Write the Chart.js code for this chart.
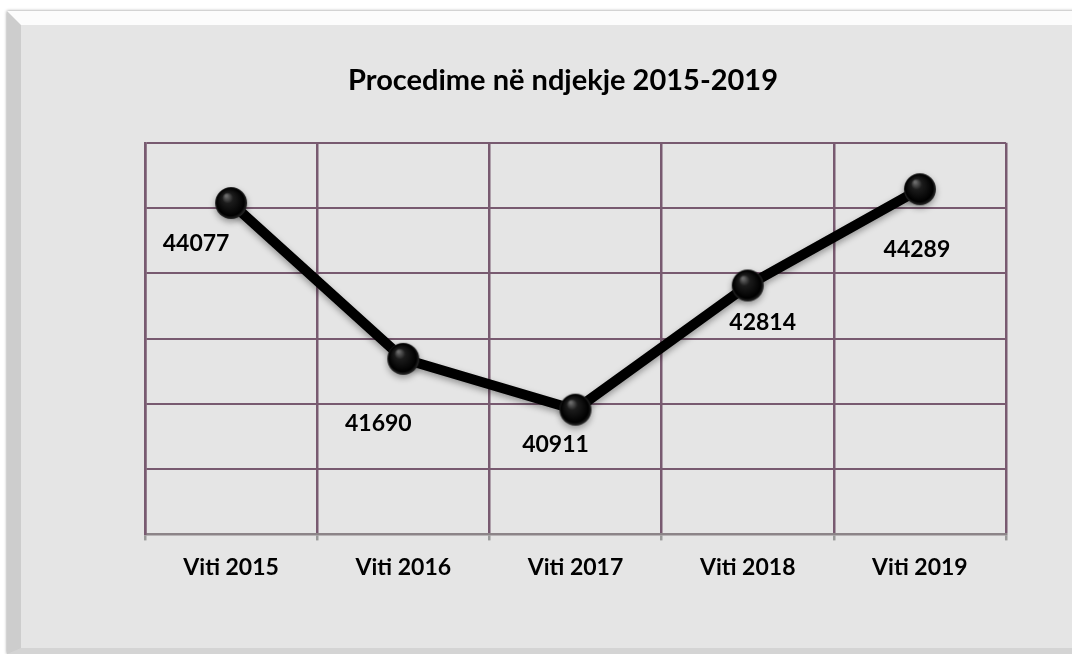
<!DOCTYPE html>
<html>
<head>
<meta charset="utf-8">
<script src="https://cdn.jsdelivr.net/npm/chart.js@4.4.0/dist/chart.umd.min.js"></script>
<style>
  body { margin: 0; background: #ffffff; }
  .frame {
    position: absolute;
    left: 7px;
    top: 11px;
    width: 1080px;
    height: 643px;
    box-sizing: border-box;
    background: #e5e5e5;
    border-top: 14px solid #fcfcfc;
    border-left: 14px solid #cdcdcd;
    border-bottom: 6px solid #d4d4d4;
    box-shadow: 0 0 3px rgba(0, 0, 0, 0.45);
  }
  #chart { position: absolute; left: 0; top: 0; }
</style>
</head>
<body>
<div class="frame"></div>
<canvas id="chart" width="1072" height="654"></canvas>
<script>
// Dados do gráfico
const years = ["Viti 2015", "Viti 2016", "Viti 2017", "Viti 2018", "Viti 2019"];
const procedimes = [44077, 41690, 40911, 42814, 44289];
const titleText = "Procedime në ndjekje 2015-2019";

// deslocamento dos rótulos em relação ao ponto (px)
const labelOffsets = [[-35, 41], [-25, 65], [-20, 35], [15, 37], [-3, 60]];

const gridColor = "#785a70";
const fontFamily = "Lato, 'Open Sans', sans-serif";

// Esfera preta usada como marcador
function makeSphere(r) {
  const c = document.createElement("canvas");
  c.width = c.height = r * 2 + 2;
  const g = c.getContext("2d");
  const cx = r + 1, cy = r + 1;
  const grad = g.createRadialGradient(cx - r * 0.3, cy - r * 0.45, 1, cx, cy, r);
  grad.addColorStop(0, "#6a6a6a");
  grad.addColorStop(0.3, "#1c1c1c");
  grad.addColorStop(0.85, "#000000");
  grad.addColorStop(1, "#2a2a2a");
  g.fillStyle = grad;
  g.beginPath();
  g.arc(cx, cy, r, 0, Math.PI * 2);
  g.fill();
  return c;
}

// Plugin: sombra dos marcadores e rótulos de valor
const valueLabels = {
  id: "valueLabels",
  beforeDatasetDraw(chart) {
    const ctx = chart.ctx;
    ctx.save();
    ctx.shadowColor = "rgba(0,0,0,0.35)";
    ctx.shadowBlur = 6;
    ctx.shadowOffsetY = 3;
  },
  afterDatasetDraw(chart) {
    chart.ctx.restore();
  },
  afterDatasetsDraw(chart) {
    const ctx = chart.ctx;
    const meta = chart.getDatasetMeta(0);
    ctx.save();
    ctx.font = "bold 23px " + fontFamily;
    ctx.fillStyle = "#000";
    ctx.textAlign = "center";
    ctx.textBaseline = "middle";
    meta.data.forEach((pt, i) => {
      const off = labelOffsets[i];
      ctx.fillText(String(procedimes[i]), pt.x + off[0], pt.y + off[1]);
    });
    ctx.restore();
  },
};

const ctx = document.getElementById("chart").getContext("2d");
const chart = new Chart(ctx, {
  type: "line",
  data: {
    labels: years,
    datasets: [
      {
        data: procedimes,
        borderColor: "#000000",
        borderWidth: 10,
        tension: 0,
        fill: false,
        pointStyle: makeSphere(16),
        pointRadius: 16,
      },
    ],
  },
  options: {
    responsive: false,
    animation: false,
    events: [],
    layout: { padding: { left: 120, right: 66, top: 0, bottom: 60 } },
    plugins: {
      legend: { display: false },
      tooltip: { enabled: false },
      title: {
        display: true,
        text: titleText,
        color: "#000",
        font: { family: fontFamily, size: 29, weight: "bold" },
        padding: { top: 63, bottom: 45 },
      },
    },
    scales: {
      x: {
        offset: true,
        grid: {
          offset: true,
          color: gridColor,
          lineWidth: 2.5,
          tickColor: "#9a9a9a",
          tickLength: 6,
        },
        border: { color: "#8c8488", width: 2.5 },
        ticks: {
          color: "#000",
          padding: 13,
          font: { family: fontFamily, size: 23, weight: "bold" },
        },
      },
      y: {
        min: 39000,
        max: 45000,
        ticks: { display: false, stepSize: 1000 },
        grid: {
          color: gridColor,
          lineWidth: 2,
          tickLength: 25,
          tickColor: "transparent",
        },
        border: { color: gridColor, width: 2.5 },
      },
    },
  },
  plugins: [valueLabels],
});
</script>
</body>
</html>
